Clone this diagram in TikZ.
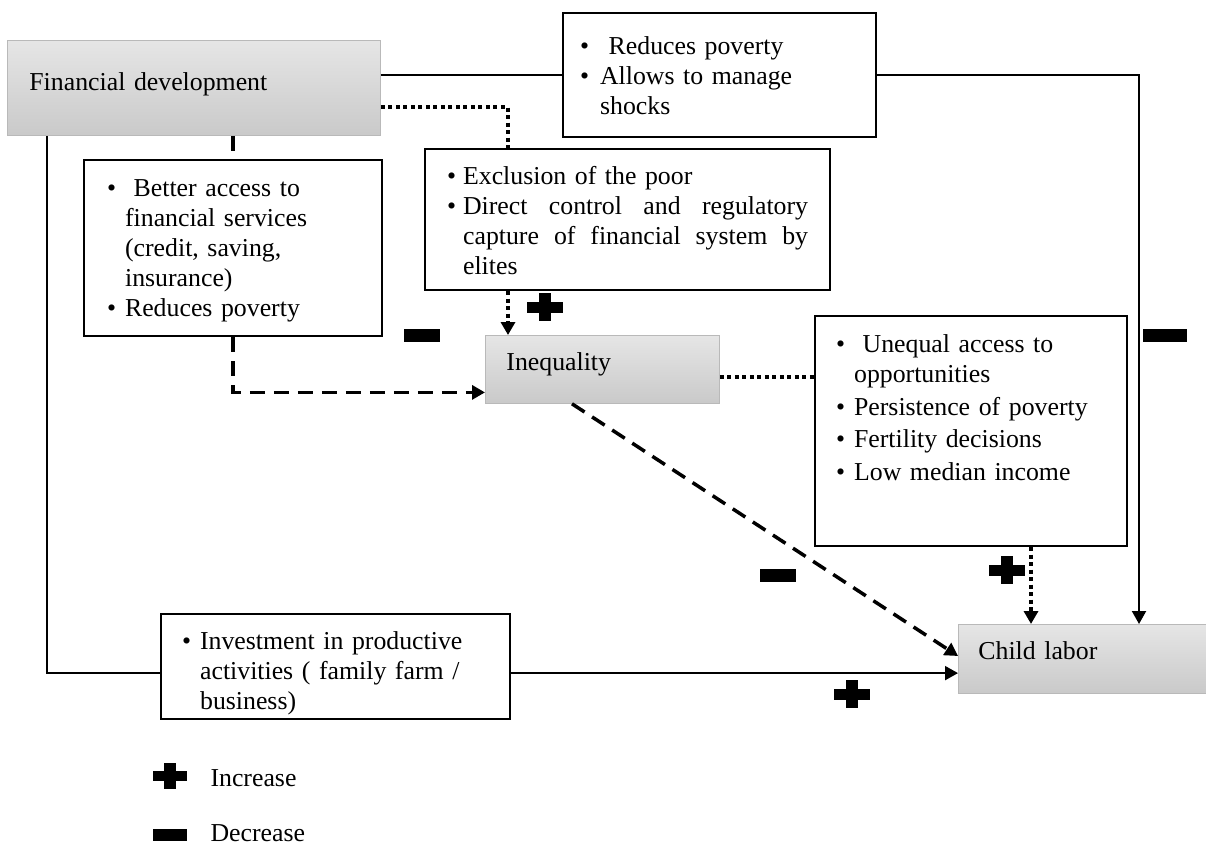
\documentclass[tikz,border=0pt]{standalone}
\usepackage{fontspec}
\setmainfont{Liberation Serif}
\usetikzlibrary{arrows.meta,calc}
\newcommand{\mybul}[1][18pt]{\makebox[#1][l]{\textbullet}}
\newcommand{\myhang}[1][18pt]{\hspace*{#1}}
\tikzset{
  every node/.style={font=\fontsize{25.8pt}{30pt}\selectfont},
  txtbox/.style={draw, line width=2.2pt, fill=white, inner ysep=0pt, align=left, anchor=north west},
  graybox/.style={draw=gray!55, line width=0.8pt, top color=gray!20, bottom color=gray!42, inner ysep=0pt, align=left, anchor=north west},
  sol/.style={line width=2pt},
  dsh/.style={line width=3.5pt, dash pattern=on 15pt off 9pt},
  dtd/.style={line width=4pt, dash pattern=on 4pt off 3.5pt},
  tip/.style={-{Triangle[length=13pt,width=14pt]}},
  plusmark/.pic={\fill (-18,-5.5) rectangle (18,5.5); \fill (-6,-14) rectangle (6,14);},
  minusmark/.pic={\fill (-18,-6.5) rectangle (18,6.5);}
}
\begin{document}
\begin{tikzpicture}[x=1pt,y=-1pt]
\useasboundingbox (0,0) rectangle (1206,847);
\clip (0,0) rectangle (1206,847);

% gray boxes
\node[graybox, inner xsep=22pt, text width=329pt, text height=50pt, text depth=45pt] (fd) at (7,40) {Financial development};
\node[graybox, inner xsep=21pt, text width=192pt, text height=35pt, text depth=33pt] (ineq) at (485,335) {Inequality};
\node[graybox, inner xsep=20pt, text width=230pt, text height=35pt, text depth=34pt] (child) at (958,624) {Child labor};

% text boxes
\node[txtbox, inner xsep=23pt, text width=252pt, text height=36pt, text depth=140pt] (b1) at (83,159)
  {\mybul\ Better access to\\ \myhang financial services\\ \myhang (credit, saving,\\ \myhang insurance)\\ \mybul Reduces poverty};
\node[txtbox, inner xsep=17pt, text width=279pt, text height=41pt, text depth=83pt] (b2) at (562,12)
  {\mybul[20pt]\ Reduces poverty\\ \mybul[20pt]Allows to manage\\ \myhang[20pt]shocks};
\node[txtbox, inner xsep=22pt, text width=361pt, text height=35pt, text depth=106pt] (b3) at (424,148)
  {\mybul[16pt]Exclusion of the poor\\ \mybul[16pt]Direct\hfill control\hfill and\hfill regulatory\\ \myhang[16pt]capture\hfill of\hfill financial\hfill system\hfill by\\ \myhang[16pt]elites};
\node[txtbox, inner xsep=21pt, text width=270pt, text height=36pt, text depth=194pt] (b4) at (814,315)
  {\mybul\ Unequal access to\\ \myhang opportunities\\[3pt] \mybul Persistence of poverty\\[2pt] \mybul Fertility decisions\\[3pt] \mybul Low median income};
\node[txtbox, inner xsep=21pt, text width=307pt, text height=35pt, text depth=70pt] (b5) at (160,613)
  {\mybul Investment in productive\\ \myhang activities ( family farm /\\ \myhang business)};

% helper coordinates
\coordinate (ie) at ([yshift=-8pt]ineq.east);
\coordinate (be) at ([yshift=-6.5pt]b5.east);
\coordinate (bw) at ([yshift=-6.5pt]b5.west);

% connectors
\draw[sol] (fd.east |- b2.west) -- (b2.west);
\draw[sol,tip] (b2.east) -| ([xshift=181pt]child.north west);
\draw[dtd] ([yshift=-19.5pt]fd.east) -| ([xshift=84pt]b3.north west);
\draw[dtd,tip] ([xshift=84pt]b3.south west) -- ([xshift=23pt]ineq.north west);
\draw[dsh] (fd.south -| b1.north) -- (b1.north);
\draw[dsh,tip] (b1.south) |- ([yshift=-23pt]ineq.west);
\draw[dtd] (ie) -- (b4.west |- ie);
\draw[dsh,tip] ([xshift=87pt]ineq.south west) -- ([yshift=-32pt]child.north west);
\draw[dtd,tip] ([xshift=217pt]b4.south west) -- ([xshift=73pt]child.north west);
\draw[sol] ([xshift=40pt]fd.south west) |- (bw);
\draw[sol,tip] (be) -- (child.west |- be);

% signs
\pic at (545,307) {plusmark};
\pic at (422,335) {minusmark};
\pic[xscale=1.2] at (1165,335) {minusmark};
\pic at (778,575) {minusmark};
\pic at (1007,570) {plusmark};
\pic at (852,694) {plusmark};

% legend
\pic[scale=0.92] at (170,776) {plusmark};
\pic[scale=0.92] at (170,835) {minusmark};
\node[anchor=base west] (inc) at (207,786) {Increase};
\node[anchor=base west] (dec) at (207,841) {Decrease};
\end{tikzpicture}
\end{document}
